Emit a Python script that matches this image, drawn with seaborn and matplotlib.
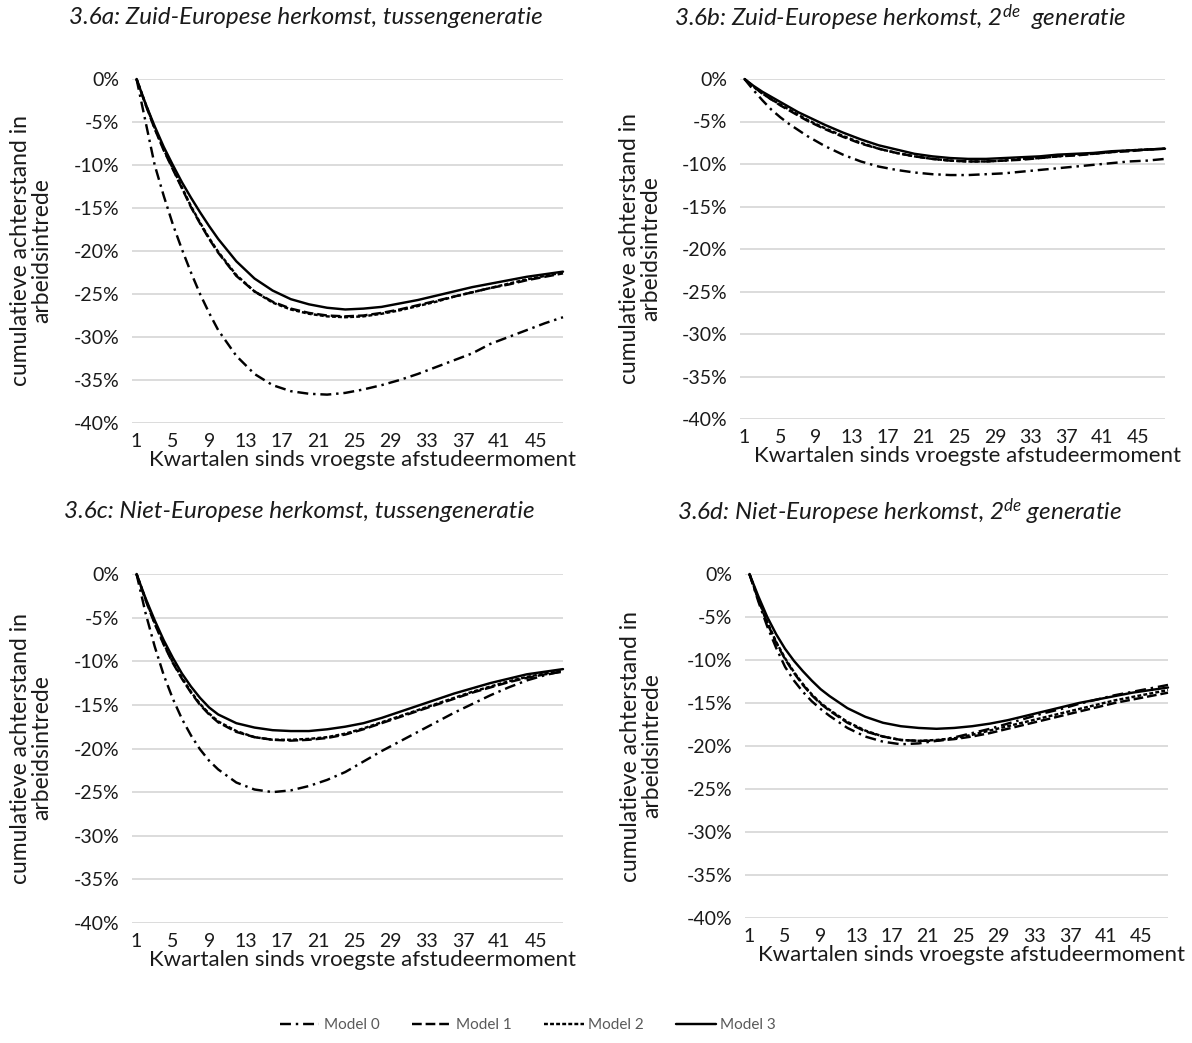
import numpy as np
import pandas as pd
import matplotlib
matplotlib.use('Agg')
import matplotlib.pyplot as plt
import seaborn as sns
from matplotlib.ticker import FuncFormatter

# kwartalen sinds vroegste afstudeermoment (x-as)
kwartalen = [1, 2, 3, 4, 5, 6, 7, 8, 9, 10, 12, 14, 16, 18, 20, 22, 24, 26, 28, 30,
             32, 34, 36, 38, 40, 42, 44, 46, 48]
xtick_vals = [1, 5, 9, 13, 17, 21, 25, 29, 33, 37, 41, 45]
ytick_vals = [0, -5, -10, -15, -20, -25, -30, -35, -40]
models = ['Model 0', 'Model 1', 'Model 2', 'Model 3']

# 3.6a: Zuid-Europese herkomst, tussengeneratie
a_m0 = [0, -5.0, -10.0, -13.6, -16.9, -19.8, -22.5, -25.0, -27.2, -29.2, -32.2, -34.3, -35.6, -36.3,
        -36.6, -36.7, -36.5, -36.1, -35.6, -35.0, -34.3, -33.5, -32.7, -31.9, -30.8, -30.0, -29.2, -28.4, -27.7]
a_m1 = [0, -3.0, -5.8, -8.3, -10.5, -12.7, -14.9, -16.8, -18.6, -20.2, -22.9, -24.7, -25.9, -26.7,
        -27.2, -27.5, -27.6, -27.5, -27.2, -26.8, -26.3, -25.8, -25.3, -24.8, -24.3, -23.9, -23.4, -23.0, -22.6]
a_m2 = [0, -2.9, -5.7, -8.2, -10.4, -12.6, -14.8, -16.7, -18.5, -20.1, -22.8, -24.7, -26.0, -26.8,
        -27.3, -27.6, -27.7, -27.6, -27.3, -26.9, -26.4, -25.9, -25.3, -24.8, -24.3, -23.8, -23.3, -22.9, -22.5]
a_m3 = [0, -2.9, -5.5, -7.9, -10.0, -12.0, -13.8, -15.5, -17.1, -18.6, -21.2, -23.2, -24.6, -25.6,
        -26.2, -26.6, -26.8, -26.7, -26.5, -26.1, -25.7, -25.2, -24.7, -24.2, -23.8, -23.4, -23.0, -22.7, -22.4]

# 3.6b: Zuid-Europese herkomst, 2de generatie
b_m0 = [0, -1.3, -2.5, -3.6, -4.5, -5.3, -6.0, -6.7, -7.3, -7.9, -8.9, -9.7, -10.3, -10.7,
        -11.0, -11.2, -11.3, -11.3, -11.2, -11.1, -10.9, -10.7, -10.5, -10.3, -10.1, -9.9, -9.7, -9.6, -9.4]
b_m1 = [0, -0.9, -1.7, -2.4, -3.1, -3.7, -4.3, -4.9, -5.4, -5.9, -6.8, -7.6, -8.2, -8.7,
        -9.1, -9.4, -9.6, -9.7, -9.7, -9.6, -9.5, -9.3, -9.1, -9.0, -8.8, -8.6, -8.5, -8.3, -8.2]
b_m2 = [0, -0.9, -1.7, -2.4, -3.0, -3.6, -4.2, -4.8, -5.3, -5.8, -6.7, -7.5, -8.2, -8.7,
        -9.1, -9.4, -9.6, -9.7, -9.7, -9.6, -9.4, -9.3, -9.1, -8.9, -8.8, -8.6, -8.4, -8.3, -8.2]
b_m3 = [0, -0.8, -1.5, -2.1, -2.7, -3.3, -3.9, -4.4, -4.9, -5.4, -6.3, -7.1, -7.8, -8.3,
        -8.8, -9.1, -9.3, -9.4, -9.4, -9.3, -9.2, -9.1, -8.9, -8.8, -8.7, -8.5, -8.4, -8.3, -8.2]

# 3.6c: Niet-Europese herkomst, tussengeneratie
c_m0 = [0, -4.5, -8.3, -11.6, -14.3, -16.6, -18.5, -20.1, -21.4, -22.4, -23.9, -24.7, -25.0, -24.8,
        -24.3, -23.6, -22.7, -21.5, -20.3, -19.2, -18.1, -17.0, -15.9, -14.9, -13.9, -13.0, -12.2, -11.6, -11.1]
c_m1 = [0, -3.0, -5.7, -8.1, -10.2, -12.0, -13.6, -15.0, -16.1, -17.0, -18.1, -18.7, -19.0, -19.1,
        -19.0, -18.8, -18.4, -17.8, -17.1, -16.4, -15.7, -15.0, -14.3, -13.6, -13.0, -12.4, -11.9, -11.5, -11.2]
c_m2 = [0, -2.9, -5.6, -8.0, -10.1, -11.9, -13.5, -14.9, -16.0, -16.9, -18.0, -18.7, -19.0, -19.0,
        -18.9, -18.7, -18.3, -17.7, -17.0, -16.3, -15.6, -14.9, -14.2, -13.5, -12.9, -12.3, -11.8, -11.4, -11.1]
c_m3 = [0, -2.8, -5.3, -7.6, -9.6, -11.4, -12.9, -14.2, -15.3, -16.1, -17.1, -17.6, -17.9, -18.0,
        -18.0, -17.8, -17.5, -17.1, -16.5, -15.8, -15.1, -14.4, -13.7, -13.1, -12.5, -12.0, -11.5, -11.2, -10.9]

# 3.6d: Niet-Europese herkomst, 2de generatie
d_m0 = [0, -3.2, -6.1, -8.6, -10.8, -12.4, -13.7, -14.8, -15.7, -16.5, -17.9, -18.9, -19.5, -19.8,
        -19.7, -19.4, -19.0, -18.5, -18.0, -17.4, -16.8, -16.2, -15.7, -15.1, -14.6, -14.1, -13.7, -13.3, -12.9]
d_m1 = [0, -3.0, -5.7, -8.0, -9.9, -11.5, -12.9, -14.1, -15.1, -15.9, -17.3, -18.3, -18.9, -19.3,
        -19.4, -19.4, -19.2, -18.9, -18.5, -18.0, -17.5, -17.0, -16.5, -16.0, -15.5, -15.0, -14.6, -14.2, -13.8]
d_m2 = [0, -2.9, -5.6, -7.9, -9.8, -11.4, -12.8, -14.0, -15.0, -15.8, -17.2, -18.2, -18.9, -19.3,
        -19.4, -19.3, -19.1, -18.7, -18.2, -17.7, -17.2, -16.7, -16.2, -15.7, -15.2, -14.7, -14.3, -13.9, -13.5]
d_m3 = [0, -2.6, -5.0, -7.0, -8.7, -10.1, -11.3, -12.4, -13.4, -14.2, -15.6, -16.6, -17.3, -17.7,
        -17.9, -18.0, -17.9, -17.7, -17.4, -17.0, -16.5, -16.0, -15.5, -15.0, -14.6, -14.2, -13.8, -13.5, -13.2]

titles = ['3.6a: Zuid-Europese herkomst, tussengeneratie',
          '3.6b: Zuid-Europese herkomst, 2$^{de}$  generatie',
          '3.6c: Niet-Europese herkomst, tussengeneratie',
          '3.6d: Niet-Europese herkomst, 2$^{de}$ generatie']
xlabel = 'Kwartalen sinds vroegste afstudeermoment'
ylabel = 'cumulatieve achterstand in\narbeidsintrede'

sns.set_style('white')
plt.rcParams['font.family'] = ['Lato', 'DejaVu Sans']
plt.rcParams['mathtext.fontset'] = 'custom'
plt.rcParams['mathtext.rm'] = 'Lato'
plt.rcParams['mathtext.it'] = 'Lato:italic'

W, H = 1192, 1043
TXT = '#1a1a1a'


def rect(l, t, r, b):
    return [l / W, 1 - b / H, (r - l) / W, (b - t) / H]


def draw_panel(ax, series, show_legend=False):
    df = pd.DataFrame({'Kwartaal': kwartalen * 4,
                       'Achterstand': sum(series, []),
                       'Model': np.repeat(models, len(kwartalen))})
    sns.lineplot(data=df, x='Kwartaal', y='Achterstand', style='Model',
                 style_order=models,
                 dashes={'Model 0': (4.5, 2, 1, 2), 'Model 1': (4, 1.6),
                         'Model 2': (1.6, 0.9), 'Model 3': ''},
                 color='black', linewidth=1.75, ax=ax, legend=show_legend)
    for line in ax.lines:
        line.set_clip_on(False)
    ax.set_xlim(0.5, 48)
    ax.set_ylim(-40, 0)
    ax.set_xticks(xtick_vals)
    ax.set_yticks(ytick_vals)
    ax.yaxis.set_major_formatter(FuncFormatter(lambda v, _: f'{v:.0f}%'))
    ax.grid(axis='y', color='#d9d9d9', linewidth=1.3)
    ax.grid(axis='x', visible=False)
    ax.set_axisbelow(True)
    sns.despine(ax=ax, left=True, bottom=True)
    ax.tick_params(length=0, labelsize=14, labelcolor=TXT)
    ax.tick_params(axis='y', pad=9)
    ax.tick_params(axis='x', pad=7)
    ax.set_xlabel(xlabel, fontsize=16, color=TXT, labelpad=0)
    ax.set_ylabel('')
    # Excel zette de as-titel iets rechts van het midden
    ax.xaxis.label.set_x(0.535)


fig = plt.figure(figsize=(W / 100, H / 100), dpi=100)

panels = [
    (rect(132, 79, 563, 423), [a_m0, a_m1, a_m2, a_m3], (306, 18), (31, 251)),
    (rect(740, 79, 1165, 419), [b_m0, b_m1, b_m2, b_m3], (900, 18), (640, 249)),
    (rect(132, 574, 563, 923), [c_m0, c_m1, c_m2, c_m3], (299, 512), (31, 748)),
    (rect(745, 574, 1168, 918), [d_m0, d_m1, d_m2, d_m3], (900, 512), (641, 746)),
]

handles, labels = None, None
for i, (r, series, tpos, ypos) in enumerate(panels):
    ax = fig.add_axes(r)
    draw_panel(ax, series, show_legend=(i == 0))
    if i == 0:
        handles, labels = ax.get_legend_handles_labels()
        ax.legend_.remove()
    fig.text(tpos[0] / W, 1 - tpos[1] / H, titles[i], fontsize=17.5, style='italic',
             color=TXT, ha='center', va='center')
    fig.text(ypos[0] / W, 1 - ypos[1] / H, ylabel, fontsize=16.5, color=TXT,
             rotation=90, ha='center', va='center', multialignment='center',
             linespacing=1.0)

fig.legend(handles, labels, loc='center', bbox_to_anchor=(528 / W, 1 - 1025 / H),
           ncol=4, frameon=False, fontsize=11, handlelength=2.6,
           columnspacing=2.1, handletextpad=0.3, labelcolor='#595959')

fig.savefig('out.png', dpi=100)
